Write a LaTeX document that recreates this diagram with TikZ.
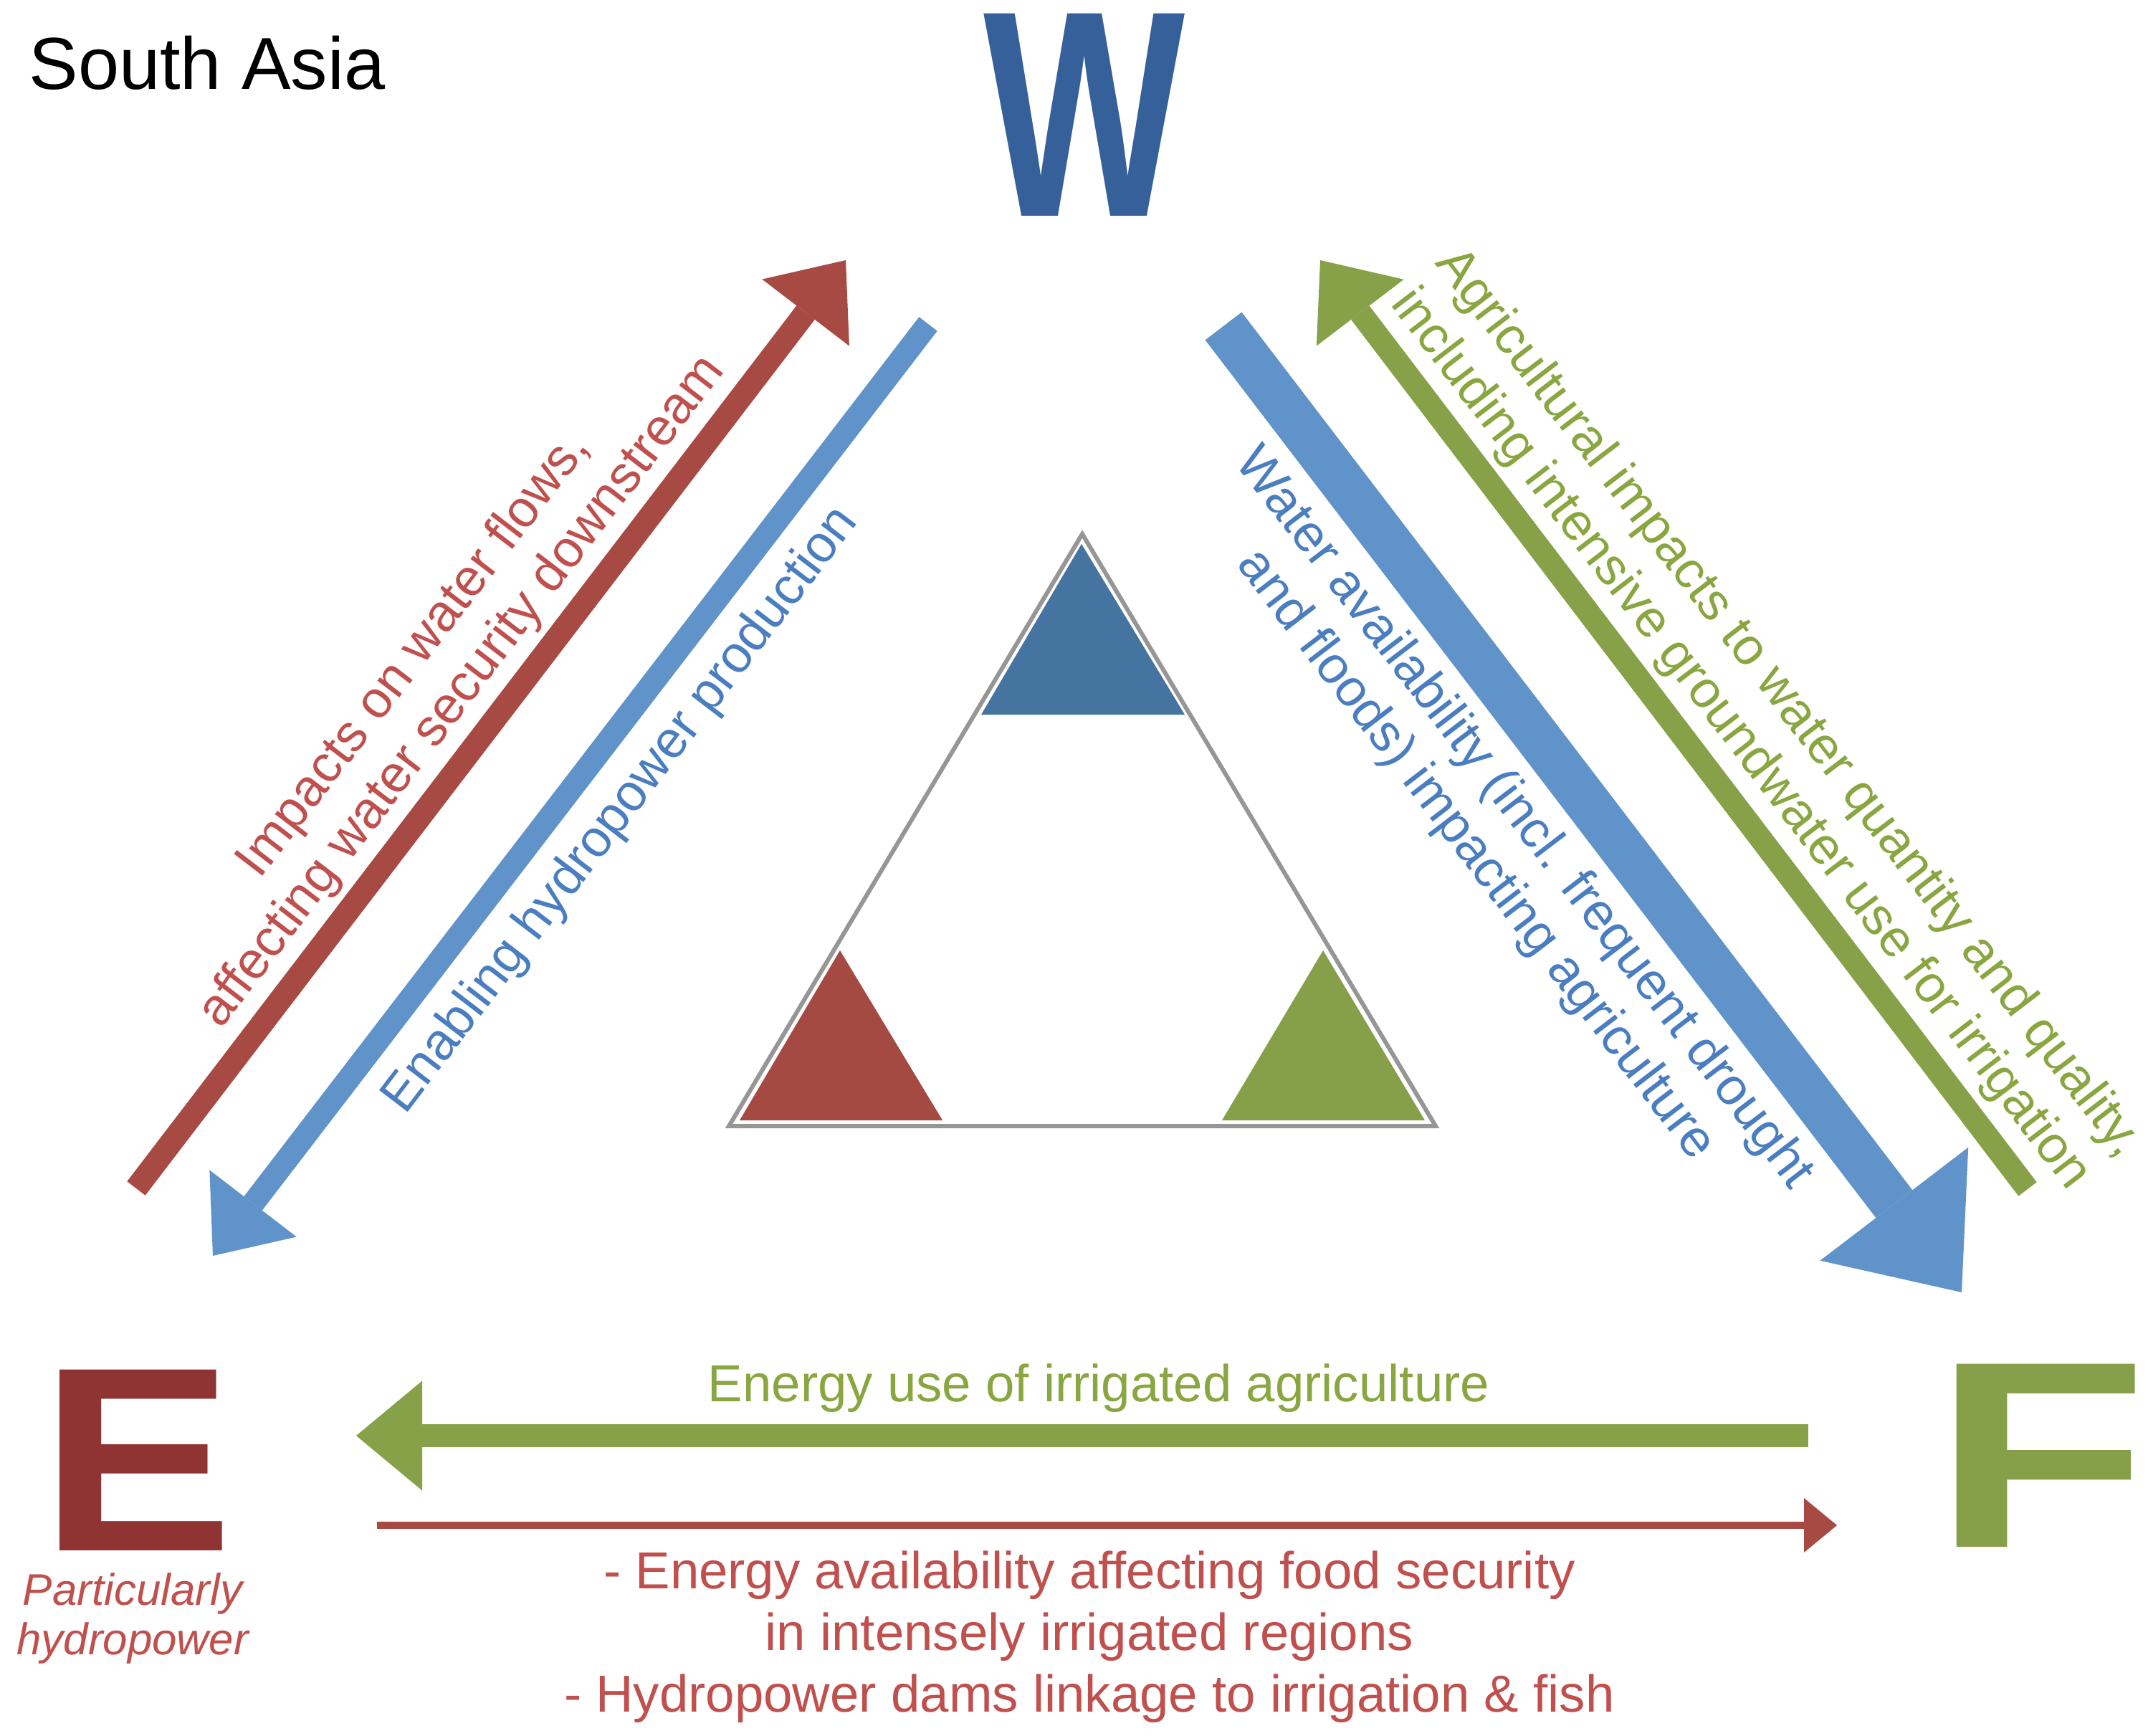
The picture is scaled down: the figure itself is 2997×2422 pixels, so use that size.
\documentclass[tikz,border=0pt]{standalone}
\usepackage{fontspec}
\setmainfont{Liberation Sans}
\usetikzlibrary{arrows.meta}
\definecolor{arrRed}{RGB}{168,74,68}
\definecolor{arrBlue}{RGB}{96,147,201}
\definecolor{arrGreen}{RGB}{135,161,72}
\definecolor{txtRed}{RGB}{192,80,77}
\definecolor{txtBlue}{RGB}{74,126,193}
\definecolor{txtGreen}{RGB}{137,166,64}
\definecolor{letW}{RGB}{54,96,154}
\definecolor{letE}{RGB}{143,52,50}
\definecolor{letF}{RGB}{134,160,74}
\definecolor{triBlue}{RGB}{70,116,160}
\definecolor{triRed}{RGB}{165,74,66}
\definecolor{triGreen}{RGB}{134,160,74}
\definecolor{triGray}{RGB}{150,150,150}
\begin{document}
\begin{tikzpicture}[x=0.01cm,y=-0.01cm,
  fatarrow/.style={line width=0.32cm, -{Triangle[length=0.92cm,width=1.53cm,line width=0pt]}},
  hugearrow/.style={line width=0.64cm, -{Triangle[length=1.55cm,width=2.6cm,line width=0pt]}},
  slimarrow/.style={line width=0.10cm, -{Triangle[length=0.46cm,width=0.76cm,line width=0pt]}},
  lbl/.style={inner sep=0pt, font=\fontsize{20.66}{24}\selectfont, align=center},
  letter/.style={inner sep=0pt, font=\bfseries}]
\fill[white] (0,0) rectangle (2997,2422);
\useasboundingbox (0,0) rectangle (2997,2422);

% title
\node[inner sep=0pt, anchor=base west, font=\fontsize{29.2}{35}\selectfont] (title) at (40,125) {South Asia};

% big letters
\node[letter, text=letW, anchor=north west] (W) at (1372,18) {\resizebox{2.81cm}{2.82cm}{W}};
\node[letter, text=letE, anchor=north west] (E) at (56,1910) {\resizebox{2.69cm}{2.52cm}{E}};
\node[letter, text=letF, anchor=north west] (F) at (2697,1902) {\resizebox{2.99cm}{2.55cm}{F}};
\node[inner sep=0pt, text=txtRed, align=center, font=\itshape\fontsize{17.6}{19.6}\selectfont] (Enote) at (185,2258) {Particularly\\hydropower};

% central triangle
\coordinate (cA) at (1510,745);
\coordinate (cR) at (2003,1571);
\coordinate (cL) at (1017,1571);
\fill[triBlue] (1509,759) -- (1653,997) -- (1369,997) -- cycle;
\fill[triRed] (1172,1326) -- (1315,1563) -- (1032,1563) -- cycle;
\fill[triGreen] (1846,1326) -- (1988,1563) -- (1705,1563) -- cycle;
\draw[triGray, line width=0.06cm, line join=miter] (cA) -- (cR) -- (cL) -- cycle;

% arrow end points
\coordinate (redT) at (190,1658);   \coordinate (redH) at (1180,363);
\coordinate (bluT) at (1295,452);   \coordinate (bluH) at (297,1752);
\coordinate (bigT) at (1707,455);   \coordinate (bigH) at (2737,1803);
\coordinate (grnT) at (2829,1659);  \coordinate (grnH) at (1842,363);
\coordinate (gbT) at (2523,2003);   \coordinate (gbH) at (497,2003);
\coordinate (rbT) at (526,2128);    \coordinate (rbH) at (2563,2128);

\draw[fatarrow, arrRed] (redT) -- (redH);
\draw[fatarrow, arrBlue] (bluT) -- (bluH);
\draw[hugearrow, arrBlue] (bigT) -- (bigH);
\draw[fatarrow, arrGreen] (grnT) -- (grnH);
\draw[fatarrow, arrGreen] (gbT) -- (gbH);
\draw[slimarrow, arrRed] (rbT) -- (rbH);

% labels
\node[lbl, text=txtRed, rotate=52.6] (t1) at (612,940) {Impacts on water flows,\\affecting water security downstream};
\node[lbl, text=txtBlue, rotate=52.6] (t2) at (867,1131) {Enabling hydropower production};
\node[lbl, text=txtBlue, rotate=-52.6] (t3) at (2092,1168) {Water availability (incl. frequent drought\\and floods) impacting agriculture};
\node[lbl, text=txtGreen, rotate=-52.6] (t4) at (2461,1007) {Agricultural impacts to water quantity and quality,\\including intensive groundwater use for irrigation};
\node[lbl, text=txtGreen, anchor=base] (t5) at (1533,1955) {Energy use of irrigated agriculture};
\node[lbl, text=txtRed, font=\fontsize{20.66}{24.5}\selectfont] (t6) at (1520,2284) {- Energy availability affecting food security\\in intensely irrigated regions\\- Hydropower dams linkage to irrigation \& fish};
\end{tikzpicture}
\end{document}
